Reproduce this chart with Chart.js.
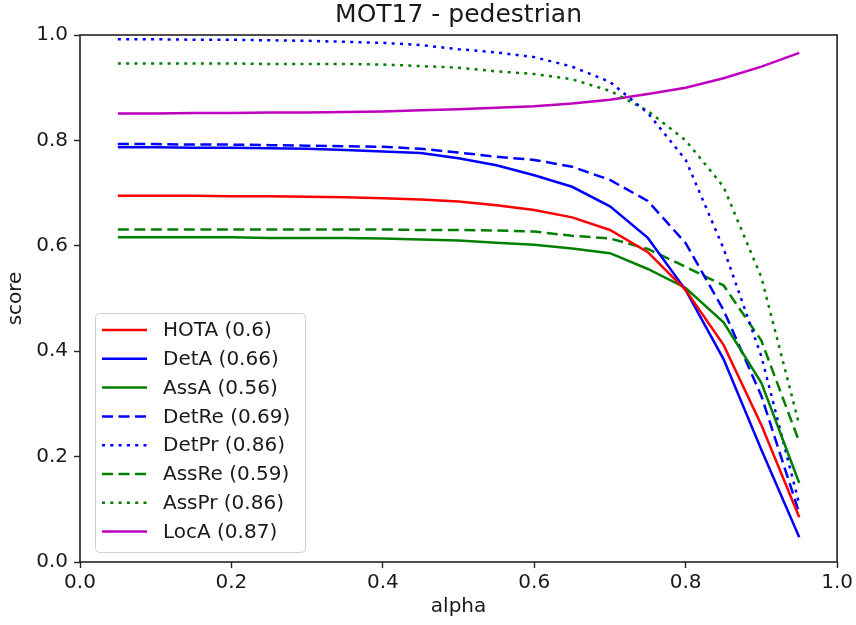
<!DOCTYPE html>
<html>
<head>
<meta charset="utf-8">
<script src="https://cdn.jsdelivr.net/npm/chart.js@4"></script>
<style>
  html, body { margin: 0; padding: 0; background: #fff; }
  canvas { display: block; }
</style>
</head>
<body>
<canvas id="c" width="856" height="625"></canvas>
<script>
'use strict';
// alpha thresholds 0.05 .. 0.95
const ALPHA = [0.05, 0.10, 0.15, 0.20, 0.25, 0.30, 0.35, 0.40, 0.45, 0.50, 0.55, 0.60, 0.65, 0.70, 0.75, 0.80, 0.85, 0.90, 0.95];
const HOTA  = [0.695, 0.695, 0.695, 0.694, 0.694, 0.693, 0.692, 0.690, 0.688, 0.684, 0.677, 0.668, 0.654, 0.630, 0.588, 0.516, 0.412, 0.260, 0.085];
const DETA  = [0.787, 0.787, 0.786, 0.786, 0.785, 0.784, 0.782, 0.779, 0.776, 0.766, 0.753, 0.734, 0.712, 0.675, 0.615, 0.516, 0.385, 0.213, 0.047];
const ASSA  = [0.616, 0.616, 0.616, 0.616, 0.615, 0.615, 0.615, 0.614, 0.612, 0.610, 0.606, 0.602, 0.595, 0.586, 0.556, 0.520, 0.455, 0.340, 0.150];
const DETRE = [0.793, 0.793, 0.792, 0.792, 0.791, 0.790, 0.789, 0.788, 0.784, 0.777, 0.769, 0.763, 0.750, 0.725, 0.685, 0.605, 0.478, 0.315, 0.093];
const DETPR = [0.992, 0.992, 0.991, 0.991, 0.990, 0.989, 0.987, 0.985, 0.981, 0.973, 0.967, 0.958, 0.940, 0.911, 0.852, 0.763, 0.595, 0.390, 0.110];
const ASSRE = [0.631, 0.631, 0.631, 0.631, 0.631, 0.631, 0.631, 0.631, 0.630, 0.630, 0.629, 0.627, 0.619, 0.614, 0.594, 0.560, 0.525, 0.420, 0.228];
const ASSPR = [0.946, 0.946, 0.946, 0.946, 0.945, 0.945, 0.945, 0.944, 0.941, 0.938, 0.931, 0.926, 0.916, 0.894, 0.856, 0.800, 0.712, 0.540, 0.260];
const LOCA  = [0.851, 0.851, 0.852, 0.852, 0.853, 0.853, 0.854, 0.855, 0.857, 0.859, 0.862, 0.865, 0.870, 0.877, 0.888, 0.900, 0.918, 0.940, 0.966];
const TICKS = [0, 0.2, 0.4, 0.6, 0.8, 1.0];

const RED = '#ff0000', BLUE = '#0000ff', GREEN = '#008000', MAG = '#bf00bf';
const DASH = [11, 5.5], DOT = [3, 5.3];
const FONT = 'DejaVu Sans';
const TXT = '#1a1a1a';

const pts = ys => ys.map((y, i) => ({ x: ALPHA[i], y }));
const ds = (label, ys, color, dash) => ({
  label, data: pts(ys), borderColor: color, backgroundColor: color, borderWidth: 2.5,
  borderDash: dash || [], pointRadius: 0, tension: 0, fill: false, borderCapStyle: 'butt',
});

// cadre + légende dans les axes (en bas à gauche), façon matplotlib
const frameLegend = {
  id: 'frameLegend',
  afterDatasetsDraw(chart) {
    const { ctx, chartArea: a } = chart;
    ctx.save();
    ctx.strokeStyle = '#222'; ctx.lineWidth = 1.6;
    ctx.strokeRect(a.left, a.top, a.right - a.left, a.bottom - a.top);
    const bx = 95.5, by = 313.5, bw = 210, bh = 239, r = 4;
    ctx.beginPath();
    ctx.moveTo(bx + r, by); ctx.lineTo(bx + bw - r, by); ctx.quadraticCurveTo(bx + bw, by, bx + bw, by + r);
    ctx.lineTo(bx + bw, by + bh - r); ctx.quadraticCurveTo(bx + bw, by + bh, bx + bw - r, by + bh);
    ctx.lineTo(bx + r, by + bh); ctx.quadraticCurveTo(bx, by + bh, bx, by + bh - r);
    ctx.lineTo(bx, by + r); ctx.quadraticCurveTo(bx, by, bx + r, by); ctx.closePath();
    ctx.fillStyle = 'rgba(255,255,255,0.8)'; ctx.fill();
    ctx.strokeStyle = '#d0d0d0'; ctx.lineWidth = 1; ctx.stroke();
    ctx.font = '20px "' + FONT + '"'; ctx.textBaseline = 'middle'; ctx.textAlign = 'left';
    chart.data.datasets.forEach((d, i) => {
      const y = 330 + i * 28.8;
      ctx.beginPath(); ctx.setLineDash(d.borderDash); ctx.strokeStyle = d.borderColor; ctx.lineWidth = d.borderWidth;
      ctx.moveTo(102, y); ctx.lineTo(147, y); ctx.stroke();
      ctx.setLineDash([]); ctx.fillStyle = TXT; ctx.fillText(d.label, 163, y + 1);
    });
    ctx.restore();
  }
};

const tickFont = { family: FONT, size: 20 };
new Chart(document.getElementById('c').getContext('2d'), {
  type: 'line',
  data: {
    datasets: [
      ds('HOTA (0.6)', HOTA, RED),
      ds('DetA (0.66)', DETA, BLUE),
      ds('AssA (0.56)', ASSA, GREEN),
      ds('DetRe (0.69)', DETRE, BLUE, DASH),
      ds('DetPr (0.86)', DETPR, BLUE, DOT),
      ds('AssRe (0.59)', ASSRE, GREEN, DASH),
      ds('AssPr (0.86)', ASSPR, GREEN, DOT),
      ds('LocA (0.87)', LOCA, MAG),
    ]
  },
  options: {
    responsive: false, animation: false,
    layout: { padding: { left: 0, right: 17, top: 0, bottom: 0 } },
    plugins: {
      legend: { display: false }, tooltip: { enabled: false },
      title: { display: true, fullSize: false, text: 'MOT17 - pedestrian', color: TXT, font: { family: FONT, size: 25, weight: 'normal', lineHeight: 1.2 }, padding: { top: 0, bottom: 5 } },
    },
    scales: {
      x: {
        type: 'linear', min: 0, max: 1,
        afterBuildTicks: s => { s.ticks = TICKS.map(v => ({ value: v })); },
        afterFit: s => { s.height = 63; },
        grid: { drawOnChartArea: false, drawTicks: true, tickLength: 6, tickColor: '#222', tickWidth: 1.4 },
        border: { display: false },
        ticks: { color: TXT, font: tickFont, padding: 3, callback: v => v.toFixed(1), maxRotation: 0 },
        title: { display: true, text: 'alpha', color: TXT, font: tickFont, padding: { top: 0, bottom: 6 } },
      },
      y: {
        min: 0, max: 1,
        afterBuildTicks: s => { s.ticks = TICKS.map(v => ({ value: v })); },
        afterFit: s => { s.width = 80; },
        grid: { drawOnChartArea: false, drawTicks: true, tickLength: 6, tickColor: '#222', tickWidth: 1.4 },
        border: { display: false },
        ticks: { color: TXT, font: tickFont, padding: 6, callback: v => v.toFixed(1) },
        title: { display: true, text: 'score', color: TXT, font: tickFont, padding: { top: 4, bottom: 0 } },
      },
    },
  },
  plugins: [frameLegend],
});
</script>
</body>
</html>
